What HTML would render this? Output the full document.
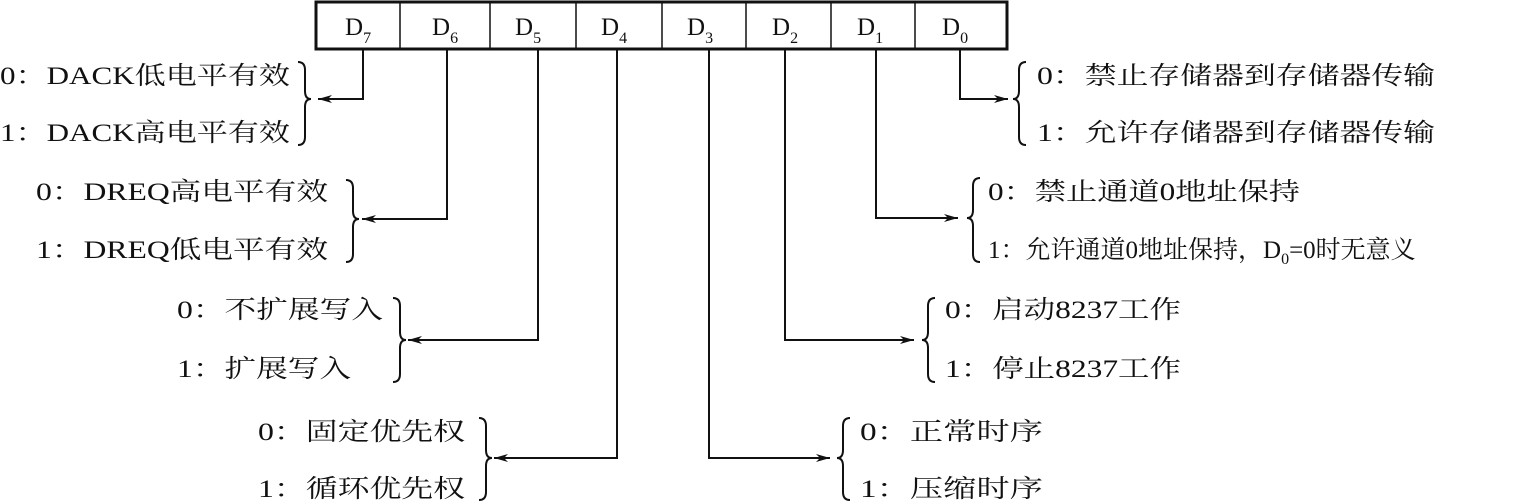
<!DOCTYPE html>
<html><head><meta charset="utf-8"><style>
html,body{margin:0;padding:0;background:#fff;}
svg{display:block;}
text{font-family:"Liberation Serif","Noto Serif CJK SC","Noto Sans CJK SC",serif;font-size:25px;fill:#111;}
.s{font-size:16px;}
</style></head><body>
<svg width="1524" height="503" viewBox="0 0 1524 503" xmlns="http://www.w3.org/2000/svg">
<defs><marker id="a" markerWidth="14" markerHeight="8" refX="14" refY="4" orient="auto" markerUnits="userSpaceOnUse"><path d="M0,0 L14,4 L0,8 L4,4 Z" fill="#111"/></marker></defs>
<g stroke="#111" fill="none">
<rect x="316" y="2" width="691" height="47" stroke-width="3"/>
<g stroke-width="1.5">
<line x1="400" y1="2" x2="400" y2="49"/><line x1="490" y1="2" x2="490" y2="49"/>
<line x1="576" y1="2" x2="576" y2="49"/><line x1="662" y1="2" x2="662" y2="49"/>
<line x1="746" y1="2" x2="746" y2="49"/><line x1="831" y1="2" x2="831" y2="49"/>
<line x1="915" y1="2" x2="915" y2="49"/>
</g>
<g stroke-width="2">
<polyline points="363,49 363,99 318,99" marker-end="url(#a)"/>
<polyline points="447,49 447,219 362,219" marker-end="url(#a)"/>
<polyline points="538,49 538,340 408,340" marker-end="url(#a)"/>
<polyline points="617,49 617,458 494,458" marker-end="url(#a)"/>
<polyline points="709,49 709,458 830,458" marker-end="url(#a)"/>
<polyline points="785,49 785,340 914,340" marker-end="url(#a)"/>
<polyline points="876,49 876,218 958,218" marker-end="url(#a)"/>
<polyline points="960,49 960,99 1008,99" marker-end="url(#a)"/>
</g>
<g stroke-width="2">
<path d="M298,62 Q305,62 305,70 L305,91 Q305,99 311,99 Q305,99 305,107 L305,137 Q305,145 298,145"/>
<path d="M346,180 Q353,180 353,188 L353,211 Q353,219 359,219 Q353,219 353,227 L353,254 Q353,262 346,262"/>
<path d="M393,298 Q400,298 400,306 L400,332 Q400,340 406,340 Q400,340 400,348 L400,374 Q400,382 393,382"/>
<path d="M479,418 Q486,418 486,426 L486,450 Q486,458 492,458 Q486,458 486,466 L486,492 Q486,500 479,500"/>
<path d="M1026,62 Q1019,62 1019,70 L1019,91 Q1019,99 1013,99 Q1019,99 1019,107 L1019,137 Q1019,145 1026,145"/>
<path d="M980,178 Q973,178 973,186 L973,210 Q973,218 967,218 Q973,218 973,226 L973,254 Q973,262 980,262"/>
<path d="M935,298 Q928,298 928,306 L928,332 Q928,340 922,340 Q928,340 928,348 L928,374 Q928,382 935,382"/>
<path d="M850,418 Q843,418 843,426 L843,450 Q843,458 837,458 Q843,458 843,466 L843,492 Q843,500 850,500"/>
</g>
</g>
<text x="345" y="35">D<tspan class="s" dy="8">7</tspan></text>
<text x="432" y="35">D<tspan class="s" dy="8">6</tspan></text>
<text x="515" y="35">D<tspan class="s" dy="8">5</tspan></text>
<text x="601" y="35">D<tspan class="s" dy="8">4</tspan></text>
<text x="687" y="35">D<tspan class="s" dy="8">3</tspan></text>
<text x="772" y="35">D<tspan class="s" dy="8">2</tspan></text>
<text x="857" y="35">D<tspan class="s" dy="8">1</tspan></text>
<text x="942" y="35">D<tspan class="s" dy="8">0</tspan></text>

<text x="0" y="84" textLength="290" lengthAdjust="spacingAndGlyphs">0：DACK低电平有效</text>
<text x="0" y="141" textLength="290" lengthAdjust="spacingAndGlyphs">1：DACK高电平有效</text>
<text x="36" y="200" textLength="292" lengthAdjust="spacingAndGlyphs">0：DREQ高电平有效</text>
<text x="36" y="258" textLength="292" lengthAdjust="spacingAndGlyphs">1：DREQ低电平有效</text>
<text x="177" y="318" textLength="206" lengthAdjust="spacingAndGlyphs">0：不扩展写入</text>
<text x="177" y="377" textLength="174" lengthAdjust="spacingAndGlyphs">1：扩展写入</text>
<text x="258" y="440" textLength="207" lengthAdjust="spacingAndGlyphs">0：固定优先权</text>
<text x="258" y="497" textLength="207" lengthAdjust="spacingAndGlyphs">1：循环优先权</text>

<text x="1037" y="84" textLength="398" lengthAdjust="spacingAndGlyphs">0：禁止存储器到存储器传输</text>
<text x="1037" y="141" textLength="398" lengthAdjust="spacingAndGlyphs">1：允许存储器到存储器传输</text>
<text x="988" y="200" textLength="312" lengthAdjust="spacingAndGlyphs">0：禁止通道0地址保持</text>
<text x="988" y="258">1：允许通道0地址保持，D<tspan class="s" dy="6">0</tspan><tspan dy="-6">=0时无意义</tspan></text>
<text x="945" y="318" textLength="236" lengthAdjust="spacingAndGlyphs">0：启动8237工作</text>
<text x="945" y="377" textLength="236" lengthAdjust="spacingAndGlyphs">1：停止8237工作</text>
<text x="860" y="440" textLength="183" lengthAdjust="spacingAndGlyphs">0：正常时序</text>
<text x="860" y="497" textLength="183" lengthAdjust="spacingAndGlyphs">1：压缩时序</text>
</svg>
</body></html>
